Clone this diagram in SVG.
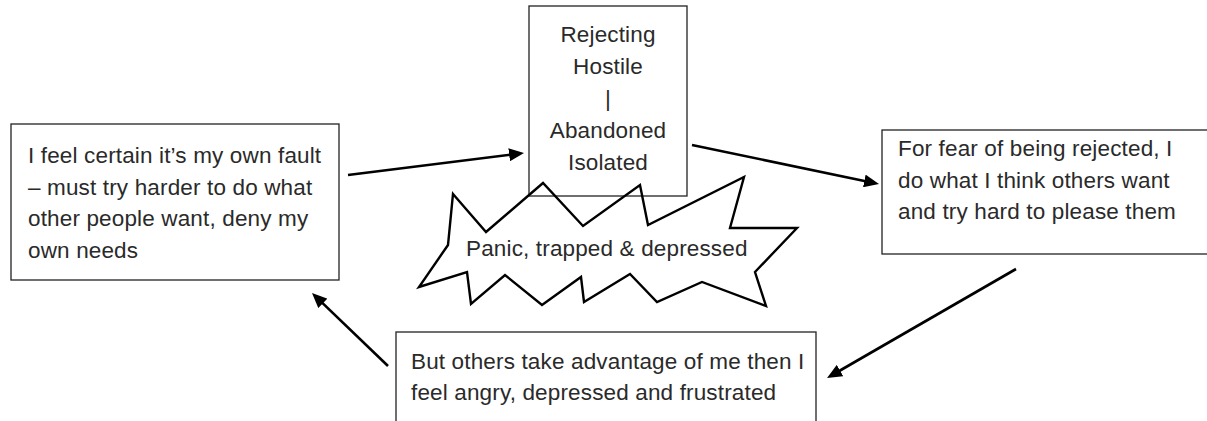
<svg xmlns="http://www.w3.org/2000/svg" width="1207" height="421" viewBox="0 0 1207 421">
<style>
.box{fill:#fff;stroke:#222;stroke-width:1.3}
.t{font-family:"Liberation Sans",Arial,sans-serif;font-size:22.5px;letter-spacing:0.15px;fill:#2a2a2a}
.c{text-anchor:middle}
.con{stroke:#000;stroke-width:2.6;fill:none;marker-end:url(#ah)}
.star{fill:none;stroke:#000;stroke-width:2.4;stroke-linejoin:miter}
</style>
<defs>
<marker id="ah" markerUnits="userSpaceOnUse" markerWidth="16" markerHeight="13" refX="5" refY="6.5" orient="auto">
<path d="M0,0 L15,6.5 L0,13 z" fill="#000"/>
</marker>
</defs>
<rect width="1207" height="421" fill="#fff"/>
<g id="node-center">
<rect class="box" x="529" y="6" width="158" height="190"/>
<text class="t c" x="608" y="42">Rejecting</text>
<text class="t c" x="608" y="74">Hostile</text>
<text class="t c" x="608" y="106">|</text>
<text class="t c" x="608" y="138">Abandoned</text>
<text class="t c" x="608" y="170">Isolated</text>
</g>
<g id="node-left">
<rect class="box" x="11" y="124" width="328" height="156"/>
<text class="t" x="28" y="163">I feel certain it’s my own fault</text>
<text class="t" x="28" y="195">– must try harder to do what</text>
<text class="t" x="28" y="226">other people want, deny my</text>
<text class="t" x="28" y="258">own needs</text>
</g>
<g id="node-right">
<rect class="box" x="882" y="130" width="340" height="124"/>
<text class="t" x="898" y="156">For fear of being rejected, I</text>
<text class="t" x="898" y="188">do what I think others want</text>
<text class="t" x="898" y="219">and try hard to please them</text>
</g>
<g id="node-bottom">
<rect class="box" x="396" y="332" width="420" height="100"/>
<text class="t" x="411" y="369">But others take advantage of me then I</text>
<text class="t" x="411" y="400">feel angry, depressed and frustrated</text>
</g>
<g id="node-star">
<polygon class="star" points="453,194 486,232 543,183 583,226 640,185 648,225 744,177 730,228 797,228 755,272 766,306 702,282 657,302 630,274 584,302 581,277 542,305 505,275 471,304 467,272 419,287 448,245"/>
<text class="t" x="466" y="256">Panic, trapped &amp; depressed</text>
</g>
<g id="connectors">
<line class="con" x1="348" y1="175" x2="514.1" y2="154.2"/>
<line class="con" x1="692" y1="145" x2="869.2" y2="182"/>
<line class="con" x1="1016" y1="269" x2="835.7" y2="373"/>
<line class="con" x1="388" y1="366" x2="319.2" y2="299.9"/>
</g>
</svg>
